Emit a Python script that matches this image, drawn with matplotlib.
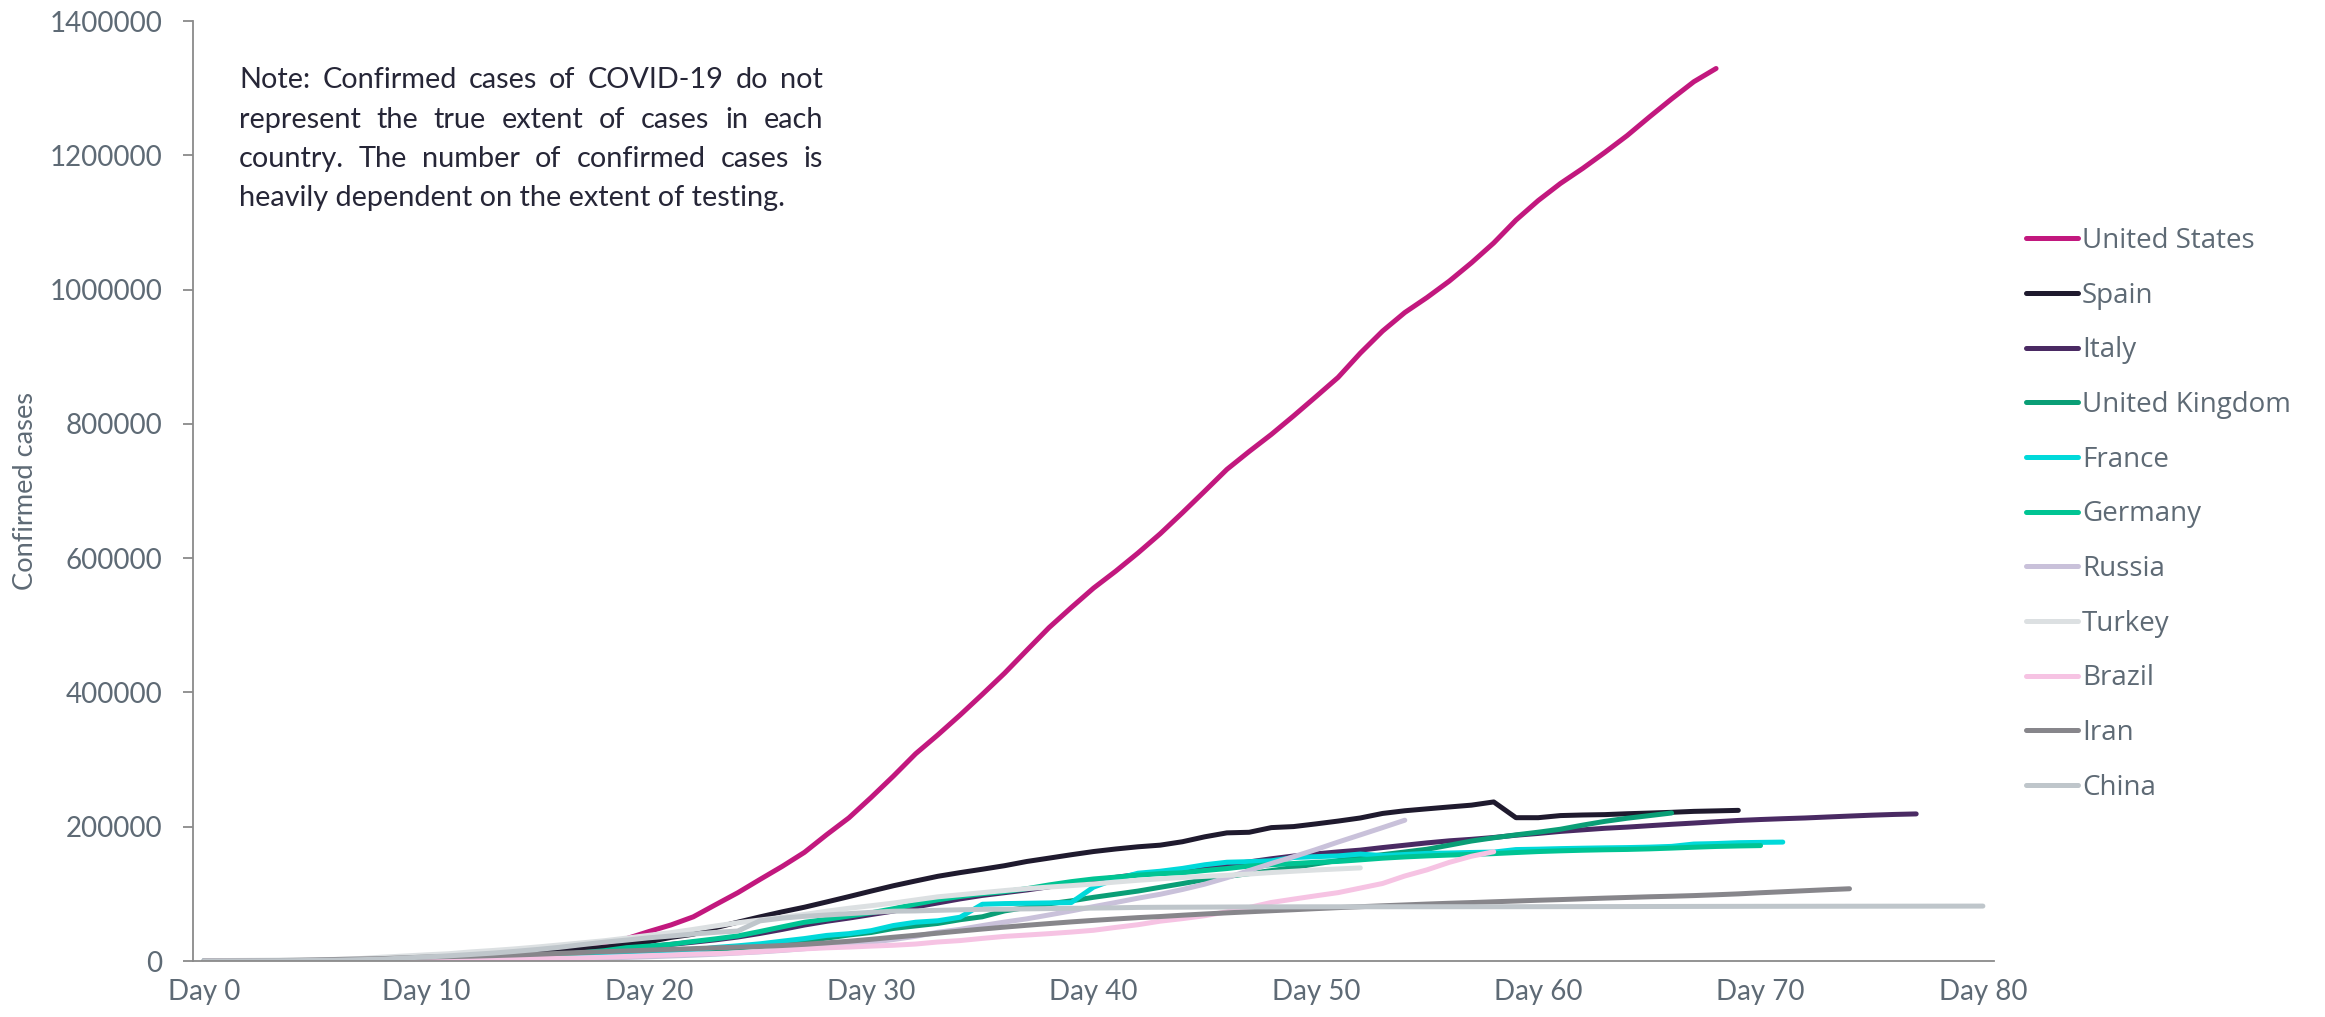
import matplotlib
matplotlib.use('Agg')
import matplotlib.pyplot as plt
import numpy as np

# cumulative confirmed cases, one value per day since the 100th case
countries = ['United States', 'Spain', 'Italy', 'United Kingdom', 'France', 'Germany',
             'Russia', 'Turkey', 'Brazil', 'Iran', 'China']
colors = ['#C2187E', '#1F1A2E', '#4A2A63', '#0A9E76', '#00D9DA', '#00C493',
          '#C9C1DA', '#DCE0E2', '#F6C3E3', '#87868B', '#BFC6CB']

us = [124, 158, 221, 319, 435, 541, 704, 994, 1301, 1630, 2183, 2770, 3613, 4596, 6344, 7786,
      13680, 19101, 25493, 33276, 43847, 53740, 65778, 83836, 101657, 121465, 140909, 161831,
      188172, 213242, 243622, 275367, 308650, 336802, 366317, 397121, 428654, 462780, 496535,
      526396, 555313, 580619, 607670, 636350, 667592, 699706, 732197, 758809, 784326, 811865,
      840351, 869170, 905358, 938154, 965785, 988197, 1012582, 1039909, 1069424, 1103461,
      1132539, 1158040, 1180375, 1204351, 1229331, 1257023, 1283929, 1309550, 1329260]
spain = [120, 165, 222, 259, 400, 500, 673, 1073, 1695, 2277, 2277, 5232, 6391, 7798, 9942,
         11748, 13910, 17963, 20410, 25374, 28768, 35136, 39885, 49515, 57786, 65719, 73235,
         80110, 87956, 95923, 104118, 112065, 119199, 126168, 131646, 136675, 141942, 148220,
         153222, 158273, 163027, 166831, 170099, 172541, 177644, 184948, 190839, 191726, 198674,
         200210, 204178, 208389, 213024, 219764, 223759, 226629, 229422, 232128, 236899, 213435,
         213435, 216582, 217466, 218011, 219329, 220325, 221447, 222857, 223578, 224350]
italy = [155, 229, 322, 453, 655, 888, 1128, 1694, 2036, 2502, 3089, 3858, 4636, 5883, 7375,
         9172, 10149, 12462, 12462, 17660, 21157, 24747, 27980, 31506, 35713, 41035, 47021,
         53578, 59138, 63927, 69176, 74386, 80589, 86498, 92472, 97689, 101739, 105792, 110574,
         115242, 119827, 124632, 128948, 132547, 135586, 139422, 143626, 147577, 152271, 156363,
         159516, 162488, 165155, 168941, 172434, 175925, 178972, 181228, 183957, 187327, 189973,
         192994, 195351, 197675, 199414, 201505, 203591, 205463, 207428, 209328, 210717, 211938,
         213013, 214457, 215858, 217185, 218268, 219070]
uk = [116, 164, 207, 274, 322, 384, 459, 459, 802, 1144, 1145, 1551, 1960, 2642, 2716, 4014,
      5067, 5745, 6726, 8164, 9640, 11812, 14745, 17312, 19780, 22453, 25481, 29865, 34173,
      38689, 42477, 48436, 52279, 55949, 61474, 65872, 74605, 79874, 85206, 89570, 94845, 99483,
      104145, 109769, 115314, 121172, 125856, 130172, 134638, 139246, 144640, 149569, 154037,
      158348, 162350, 166441, 172481, 178685, 183500, 187842, 191832, 196243, 202359, 207977,
      212629, 216525, 220449]
france = [100, 130, 191, 204, 288, 380, 656, 957, 1136, 1219, 1794, 2293, 2293, 3681, 4496, 4532,
          6683, 7715, 9124, 10970, 12758, 14463, 16243, 20123, 22622, 25600, 29551, 33402, 38105,
          40708, 45170, 52827, 57749, 59929, 65202, 84500, 85500, 86000, 86500, 87000, 110000,
          122000, 130727, 133677, 137875, 143303, 147091, 147969, 149232, 154097, 155383, 156513,
          159297, 157026, 158636, 160292, 160847, 161644, 162220, 165963, 166543, 167373, 167986,
          168518, 168925, 169583, 170687, 174191, 174918, 176202, 176658, 177094]
germany = [130, 159, 196, 262, 482, 670, 799, 1040, 1176, 1457, 1908, 2078, 3675, 4585, 5795,
           7272, 9257, 12327, 15320, 19848, 22213, 24873, 29056, 32986, 37323, 43938, 50871,
           57695, 62095, 66885, 71808, 77872, 84794, 91159, 96092, 100123, 103374, 107663, 113296,
           118181, 122171, 124908, 127854, 130072, 131359, 134753, 137698, 141397, 143342, 145184,
           147065, 148291, 150648, 153129, 154999, 156513, 157770, 158758, 159912, 161539, 163009,
           164077, 164967, 165664, 166152, 167007, 168162, 169430, 170588, 171324, 171879]
russia = [114, 147, 199, 253, 306, 367, 438, 495, 658, 840, 1036, 1264, 1534, 1836, 2337, 2777,
          3548, 4149, 4731, 5389, 6343, 7497, 8672, 10131, 11917, 13584, 15770, 18328, 21102,
          24490, 27938, 32008, 36793, 42853, 47121, 52763, 57999, 62773, 68622, 74588, 80949,
          87147, 93558, 99399, 106498, 114431, 124054, 134686, 145268, 155370, 165929, 177160,
          187859, 198676, 209688]
turkey = [359, 670, 947, 1236, 1529, 1872, 2433, 3629, 5698, 7402, 9217, 10827, 13531, 15679,
          18135, 20921, 23934, 27069, 30217, 34109, 38226, 42282, 47029, 52167, 56956, 61049,
          65111, 69392, 74193, 78546, 82329, 86306, 90980, 95591, 98674, 101790, 104912, 107773,
          110130, 112261, 114653, 117589, 120204, 122392, 124375, 126045, 127659, 129491, 131744,
          133721, 135569, 137115, 138657]
brazil = [151, 151, 162, 200, 321, 372, 621, 793, 1021, 1546, 1924, 2247, 2554, 2985, 3417, 3904,
          4256, 4579, 5717, 6836, 8044, 9056, 10360, 11130, 12161, 14034, 16170, 18092, 19638,
          20727, 22192, 23430, 25262, 28320, 30425, 33682, 36658, 38654, 40743, 43079, 45757,
          50036, 54043, 59324, 63100, 67446, 73235, 79685, 87187, 92202, 97100, 101826, 108620,
          115455, 126611, 135773, 146894, 156061, 162699]
iran = [139, 245, 388, 593, 978, 1501, 2336, 2922, 3513, 4747, 5823, 6566, 7161, 8042, 9000,
        10075, 11364, 12729, 13938, 14991, 16169, 17361, 18407, 19644, 20610, 21638, 23049, 24811,
        27017, 29406, 32332, 35408, 38309, 41495, 44605, 47593, 50468, 53183, 55743, 58226, 60500,
        62589, 64586, 66220, 68192, 70029, 71686, 73303, 74877, 76389, 77995, 79494, 80868, 82211,
        83505, 84802, 85996, 87026, 88194, 89328, 90481, 91472, 92584, 93657, 94640, 95646, 96448,
        97424, 98647, 99970, 101650, 103135, 104691, 106220, 107603]
china = [62, 198, 291, 440, 571, 830, 1287, 1975, 2744, 4515, 5974, 7711, 9692, 11791, 14380,
         17205, 20438, 24324, 28018, 31161, 34546, 37198, 40171, 42638, 44653, 59804, 63851, 66492,
         68500, 70548, 72436, 74185, 74576, 75465, 76288, 76936, 77150, 77658, 78064, 78497, 78824,
         79251, 79824, 80026, 80151, 80270, 80409, 80552, 80651, 80695, 80735, 80754, 80778, 80793,
         80813, 80824, 80844, 80860, 80881, 80894, 80928, 80967, 81008, 81054, 81093, 81171, 81218,
         81285, 81340, 81394, 81439, 81470, 81518, 81554, 81589, 81620, 81639, 81669, 81708, 81740,
         81802]

series = [us, spain, italy, uk, france, germany, russia, turkey, brazil, iran, china]

y_ticks = [0, 200000, 400000, 600000, 800000, 1000000, 1200000, 1400000]
x_ticks = [0, 10, 20, 30, 40, 50, 60, 70, 80]
x_labels = ['Day 0', 'Day 10', 'Day 20', 'Day 30', 'Day 40', 'Day 50', 'Day 60', 'Day 70', 'Day 80']

note_lines = ['Note: Confirmed cases of COVID-19 do not',
              'represent the true extent of cases in each',
              'country. The number of confirmed cases is',
              'heavily dependent on the extent of testing.']

plt.rcParams['font.family'] = ['Lato', 'DejaVu Sans']
grey_text = '#5E6A75'
W, H = 2325, 1017

fig = plt.figure(figsize=(W / 100, H / 100), dpi=100)
ax = fig.add_axes([193 / W, 1 - 961 / H, (1994 - 193) / W, (961 - 21) / H])

for name, vals, col in zip(countries, series, colors):
    ax.plot(np.arange(len(vals)), vals, color=col, lw=3.6, label=name,
            solid_capstyle='round', solid_joinstyle='round')

ax.set_xlim(-0.5, 80.5)
ax.set_ylim(0, 1400000)
ax.set_yticks(y_ticks)
ax.set_yticklabels([str(v) for v in y_ticks])
ax.set_xticks(x_ticks)
ax.set_xticklabels(x_labels)

for side in ['top', 'right']:
    ax.spines[side].set_visible(False)
for side in ['left', 'bottom']:
    ax.spines[side].set_color('#8A8A8A')
    ax.spines[side].set_linewidth(1.3)
ax.tick_params(axis='y', length=7, width=1.3, color='#8A8A8A', pad=15,
               labelsize=20, labelcolor=grey_text)
ax.tick_params(axis='x', length=0, pad=13, labelsize=20, labelcolor=grey_text)

ax.set_ylabel('Confirmed cases', fontsize=19.6, color=grey_text)
ax.yaxis.set_label_coords(-0.086, 0.5)

# justified note block
renderer = fig.canvas.get_renderer()
x_left, x_right = 239, 823
baselines = [88, 128, 167, 206]
note_size = 20.8
for i, line in enumerate(note_lines):
    yb = 1 - baselines[i] / H
    if i == len(note_lines) - 1:
        fig.text(x_left / W, yb, line, fontsize=note_size, color='#262637', va='baseline')
        continue
    words = line.split()
    texts = [fig.text(0, yb, w, fontsize=note_size, color='#262637', va='baseline')
             for w in words]
    widths = [t.get_window_extent(renderer).width for t in texts]
    gap = (x_right - x_left - sum(widths)) / (len(words) - 1)
    x = x_left
    for t, w in zip(texts, widths):
        t.set_x(x / W)
        x += w + gap

leg = fig.legend(loc='upper left', bbox_to_anchor=(2026 / W, 1 - 227 / H),
                 frameon=False, borderpad=0, borderaxespad=0,
                 handlelength=1.87, handletextpad=0.15, labelspacing=0.96,
                 prop={'family': ['Open Sans', 'DejaVu Sans'], 'size': 20})
for t in leg.get_texts():
    t.set_color(grey_text)
for h in leg.legend_handles:
    h.set_linewidth(3.6)

fig.savefig('out.png', dpi=100)
